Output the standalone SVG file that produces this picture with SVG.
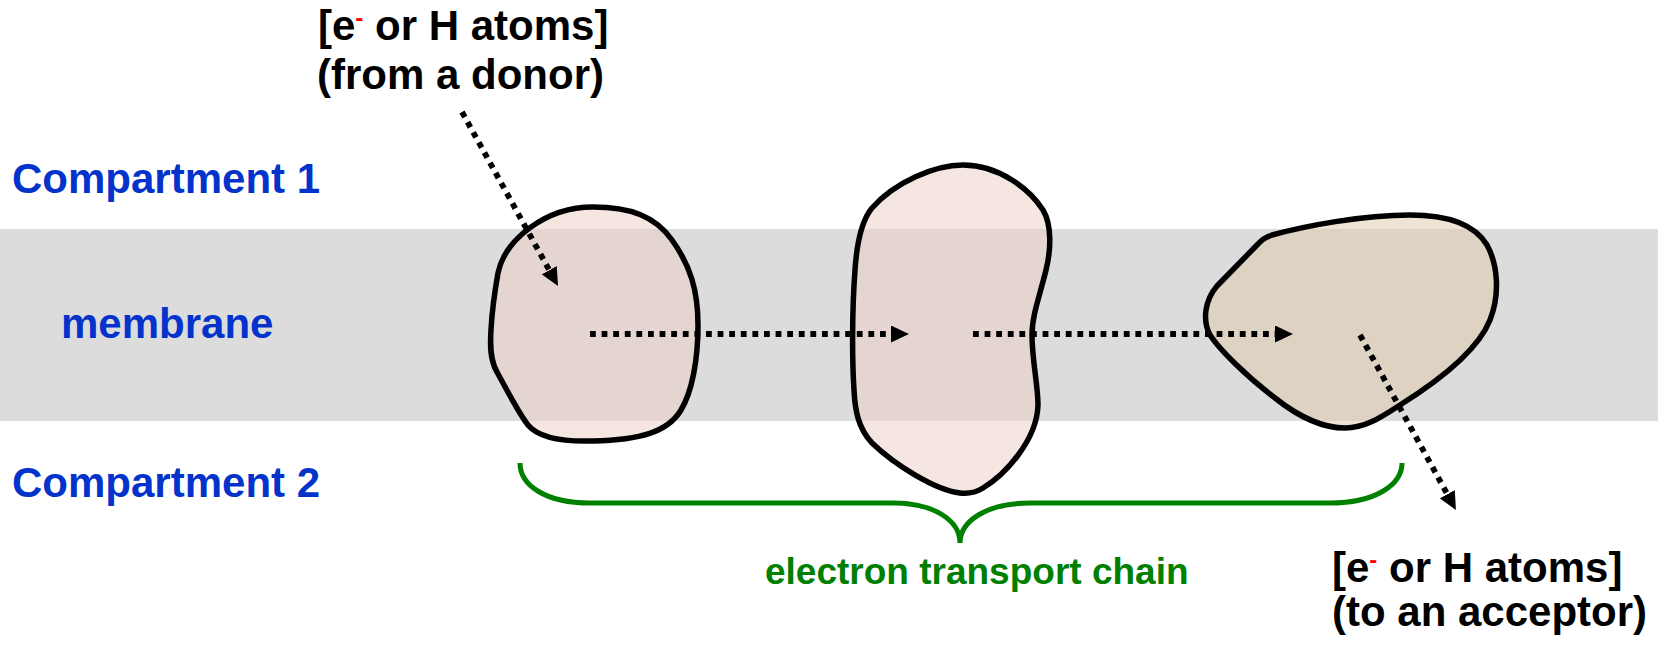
<svg xmlns="http://www.w3.org/2000/svg" width="1658" height="646" viewBox="0 0 1658 646">
  <defs>
    <style>
      .lbl { font-family: "Liberation Sans", Arial, sans-serif; font-weight: bold; font-size: 42px; }
      .region { fill: #0433cc; }
      .note { fill: #000000; }
      .complex { stroke: #000000; stroke-width: 5.5; stroke-linejoin: round; fill-opacity: 0.5; }
      .pink { fill: #ebcdc5; }
      .tan { fill: #e0c8a8; }
      .flow { fill: none; stroke: #000000; stroke-width: 5.8; stroke-dasharray: 5.8 5.8; marker-end: url(#head); }
      .brace { fill: none; stroke: #008000; stroke-width: 5; stroke-linecap: butt; }
      .sup { fill: #ff0000; font-size: 24px; }
    </style>
    <marker id="head" viewBox="0 0 18 17" markerWidth="18" markerHeight="17" refX="0" refY="8.5" orient="auto" markerUnits="userSpaceOnUse">
      <path d="M0,0 L18,8.5 L0,17 Z" fill="#000000"/>
    </marker>
  </defs>

  <rect width="1658" height="646" fill="#ffffff"/>

  <!-- lipid membrane band -->
  <g id="membrane-band">
    <rect x="0" y="229" width="1658" height="192" fill="#dcdcdc"/>
  </g>

  <!-- region labels -->
  <g id="labels-regions">
    <text class="lbl region" x="12" y="193">Compartment 1</text>
    <text class="lbl region" x="61" y="338">membrane</text>
    <text class="lbl region" x="12" y="497">Compartment 2</text>
  </g>

  <!-- carrier complexes -->
  <g id="complex-1">
    <path class="complex pink" d="M593,207 C630,207 655,216 672,240 C690,265 698,290 698,325 C698,360 692,392 681,410 C668,432 640,440 593,441 C560,442 538,437 528,425 C518,412 508,392 497,372 C490,360 490,345 491,330 C492,310 495,290 498,273 C505,240 545,207 593,207 Z"/>
  </g>
  <g id="complex-2">
    <path class="complex pink" d="M963,165 C1000,165 1030,190 1043,210 C1052,225 1051,250 1046,270 C1040,295 1032,315 1032,335 C1032,360 1038,385 1038,405 C1037,440 1005,475 983,488 C975,493 968,494 960,493 C935,490 895,465 872,443 C858,428 855,410 854,390 C852,360 852,310 855,270 C857,240 862,220 872,208 C895,182 935,165 963,165 Z"/>
  </g>
  <g id="complex-3">
    <path class="complex tan" d="M1272,235 C1305,226 1362,215 1410,215 C1450,215 1475,225 1487,245 C1498,265 1500,295 1490,320 C1478,350 1440,380 1400,405 C1380,418 1365,428 1345,428 C1325,428 1300,418 1275,398 C1245,375 1220,350 1210,335 C1202,320 1205,300 1217,286 L1258,244 Q1263,238 1272,235 Z"/>
  </g>

  <!-- electron / H-atom flow -->
  <g id="connectors">
    <path class="flow" d="M462,112 L549.3,270.2"/>
    <path class="flow" d="M590,334 L891,334"/>
    <path class="flow" d="M973,334 L1275,334"/>
    <path class="flow" d="M1360,335 L1447.3,494.2"/>
  </g>

  <!-- brace spanning the chain -->
  <g id="chain-brace">
    <path class="brace" d="M520,463 C520,485 545,503 590,503 L893,503 C935,503 960,521 960,543 C960,521 987,503 1030,503 L1330,503 C1375,503 1402,485 1402,463"/>
    <text x="765" y="584" fill="#008000" font-family="Liberation Sans, Arial, sans-serif" font-weight="bold" font-size="37">electron transport chain</text>
  </g>

  <!-- donor label -->
  <g id="donor-label">
    <text class="lbl note" x="318" y="40">[e<tspan class="sup" dy="-14">-</tspan><tspan dy="14"> or H atoms]</tspan></text>
    <text class="lbl note" x="317" y="89">(from a donor)</text>
  </g>

  <!-- acceptor label -->
  <g id="acceptor-label">
    <text class="lbl note" x="1332" y="582">[e<tspan class="sup" dy="-14">-</tspan><tspan dy="14"> or H atoms]</tspan></text>
    <text class="lbl note" x="1332" y="626">(to an acceptor)</text>
  </g>
</svg>
